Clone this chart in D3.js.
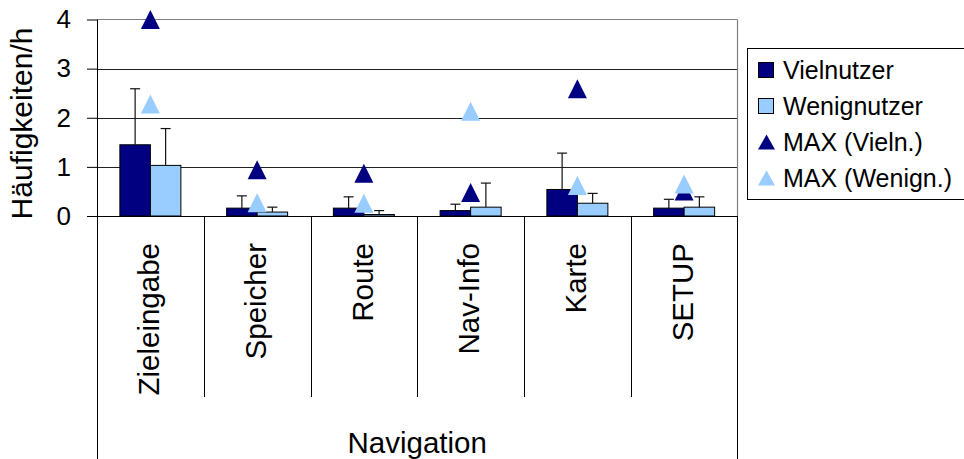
<!DOCTYPE html>
<html>
<head>
<meta charset="utf-8">
<script src="https://cdn.jsdelivr.net/npm/d3@7"></script>
<style>
  html, body { margin: 0; padding: 0; background: #fff; }
  svg { display: block; font-family: "Liberation Sans", Arial, sans-serif; }
</style>
</head>
<body>
<svg id="chart" width="964" height="459"></svg>
<script>
const categories = ["Zieleingabe", "Speicher", "Route", "Nav-Info", "Karte", "SETUP"];
const groupLabel = "Navigation";
const seriesNames = ["Vielnutzer", "Wenignutzer", "MAX (Vieln.)", "MAX (Wenign.)"];
const vielnutzer = [1.45, 0.16, 0.16, 0.11, 0.54, 0.16];
const vielnutzerErr = [1.14, 0.25, 0.23, 0.13, 0.74, 0.18];
const wenignutzer = [1.03, 0.08, 0.03, 0.18, 0.26, 0.18];
const wenignutzerErr = [0.75, 0.10, 0.08, 0.49, 0.20, 0.21];
const maxVieln = [4.0, 0.94, 0.87, 0.48, 2.59, 0.51];
const maxWenign = [2.28, 0.27, 0.26, 2.13, 0.62, 0.65];
const yTicks = [0, 1, 2, 3, 4];
const yTitle = "Häufigkeiten/h";

const colDark = "#000080";
const colLight = "#99CCFF";

const svg = d3.select("#chart");
const L = 97, R = 737.5, T = 19.5, B = 216;

const x = d3.scaleBand().domain(categories).range([L, R]).paddingInner(0).paddingOuter(0);
const y = d3.scaleLinear().domain([0, 4]).range([B, T]);
const barW = 30.5;
const inner = d3.scaleBand().domain(["v", "w"])
  .range([(x.bandwidth() - 2 * barW) / 2, (x.bandwidth() + 2 * barW) / 2]);

// plot border (gray) top/right
svg.append("line").attr("x1", L).attr("x2", R).attr("y1", y(4)).attr("y2", y(4))
  .attr("stroke", "#808080").attr("stroke-width", 1.2);
// gridlines
svg.append("g").selectAll("line").data([1, 2, 3]).join("line")
  .attr("x1", L).attr("x2", R).attr("y1", d => Math.round(y(d)) + 0.5).attr("y2", d => Math.round(y(d)) + 0.5)
  .attr("stroke", "#222").attr("stroke-width", 1);

// y axis
const yAxis = svg.append("g").attr("transform", `translate(${L},0)`)
  .call(d3.axisLeft(y).tickValues(yTicks).tickSize(10).tickSizeOuter(0).tickPadding(16).tickFormat(d3.format("d")));
yAxis.select(".domain").remove();
yAxis.selectAll(".tick line").attr("stroke", "#000");
yAxis.selectAll(".tick text").attr("font-size", 26).attr("fill", "#000")
  .attr("font-family", "'Liberation Sans', Arial, sans-serif");

// axis lines extending to bottom
svg.append("line").attr("x1", L + 0.5).attr("x2", L + 0.5).attr("y1", T).attr("y2", 459).attr("stroke", "#000");
svg.append("line").attr("x1", R).attr("x2", R).attr("y1", T).attr("y2", B).attr("stroke", "#808080").attr("stroke-width", 1.2);
svg.append("line").attr("x1", R).attr("x2", R).attr("y1", B).attr("y2", 459).attr("stroke", "#000");
// category separators
svg.append("g").selectAll("line").data(categories.slice(1)).join("line")
  .attr("x1", d => Math.round(x(d)) + 0.5).attr("x2", d => Math.round(x(d)) + 0.5)
  .attr("y1", B).attr("y2", 397).attr("stroke", "#000");

// bars
const barsData = [
  { key: "v", vals: vielnutzer, err: vielnutzerErr, color: colDark },
  { key: "w", vals: wenignutzer, err: wenignutzerErr, color: colLight }
];
barsData.forEach(s => {
  const g = svg.append("g");
  g.selectAll("rect").data(categories).join("rect")
    .attr("x", (c) => x(c) + inner(s.key))
    .attr("width", barW)
    .attr("y", (c, i) => y(s.vals[i]))
    .attr("height", (c, i) => y(0) - y(s.vals[i]))
    .attr("fill", s.color).attr("stroke", "#000").attr("stroke-width", 1);
});
// error bars
barsData.forEach(s => {
  const g = svg.append("g").attr("stroke", "#111").attr("stroke-width", 1.2);
  categories.forEach((c, i) => {
    const cx = x(c) + inner(s.key) + barW / 2;
    const y1 = y(s.vals[i]), y2 = y(s.vals[i] + s.err[i]);
    g.append("line").attr("x1", cx).attr("x2", cx).attr("y1", y1).attr("y2", y2);
    g.append("line").attr("x1", cx - 5).attr("x2", cx + 5).attr("y1", y2).attr("y2", y2);
  });
});
// horizontal baseline
svg.append("line").attr("x1", L).attr("x2", R).attr("y1", B + 0.5).attr("y2", B + 0.5).attr("stroke", "#000");

// triangles
const tri = (w, h) => `M0,${-h / 2}L${w / 2},${h / 2}L${-w / 2},${h / 2}Z`;
[[maxVieln, colDark], [maxWenign, colLight]].forEach(([vals, col]) => {
  svg.append("g").selectAll("path").data(categories).join("path")
    .attr("d", tri(19, 19))
    .attr("transform", (c, i) => `translate(${x(c) + x.bandwidth() / 2},${y(vals[i])})`)
    .attr("fill", col);
});

// category labels
svg.append("g").selectAll("text").data(categories).join("text")
  .attr("transform", c => `translate(${x(c) + x.bandwidth() / 2},243) rotate(-90)`)
  .attr("text-anchor", "end").attr("dy", "0.3em")
  .attr("font-size", 29.5).attr("fill", "#000").text(d => d);

svg.append("text").attr("x", (L + R) / 2).attr("y", 453).attr("text-anchor", "middle")
  .attr("font-size", 29.5).attr("fill", "#000").text(groupLabel);

svg.append("text").attr("transform", "translate(32,123.5) rotate(-90)")
  .attr("text-anchor", "middle").attr("font-size", 30).attr("fill", "#000").text(yTitle);

// legend
const lg = svg.append("g");
lg.append("rect").attr("x", 747.5).attr("y", 48.5).attr("width", 260).attr("height", 151)
  .attr("fill", "#fff").attr("stroke", "#000").attr("stroke-width", 1);
const legendCols = [colDark, colLight, colDark, colLight];
seriesNames.forEach((name, i) => {
  const by = 78.5 + i * 36;
  if (i < 2) {
    lg.append("rect").attr("x", 758.5).attr("y", by - 16).attr("width", 15).attr("height", 15)
      .attr("fill", legendCols[i]).attr("stroke", "#000").attr("stroke-width", 1);
  } else {
    lg.append("path").attr("d", tri(17, 15)).attr("transform", `translate(766.5,${by - 8.5})`)
      .attr("fill", legendCols[i]);
  }
  lg.append("text").attr("x", 783).attr("y", by).attr("font-size", 25).attr("fill", "#000").text(name);
});
</script>
</body>
</html>
